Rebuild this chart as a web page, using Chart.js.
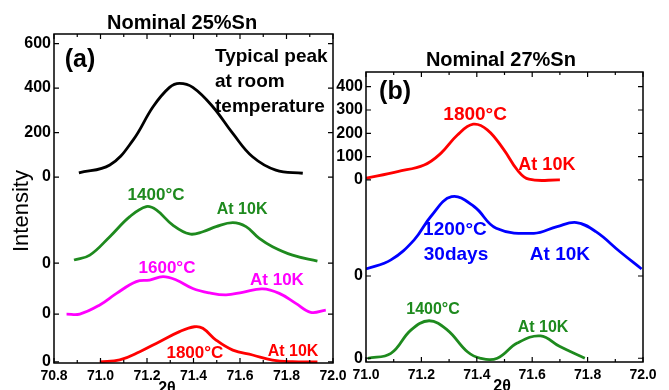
<!DOCTYPE html>
<html>
<head>
<meta charset="utf-8">
<script src="https://cdn.jsdelivr.net/npm/chart.js@4"></script>
<style>
  body { margin: 0; background: #fff; }
  #wrap { position: relative; width: 669px; height: 390px; overflow: hidden; }
  canvas { position: absolute; top: 0; }
  #chartA { left: 0; }
  #chartB { left: 300px; }
</style>
</head>
<body>
<div id="wrap">
  <canvas id="chartA" width="360" height="390"></canvas>
  <canvas id="chartB" width="369" height="390"></canvas>
</div>
<script>
// panel (a), nominal 25%Sn: 2θ and intensity, each curve
const typicalX = [70.907, 71.04, 71.14, 71.226, 71.297, 71.34, 71.397, 71.483, 71.569, 71.654, 71.754, 71.87];
const typicalY = [19, 54, 166, 316, 403, 421, 403, 316, 196, 91, 31, 17];
const a1400X = [70.886, 70.954, 71.04, 71.126, 71.197, 71.24, 71.311, 71.383, 71.44, 71.497, 71.569, 71.626, 71.683, 71.74, 71.826, 71.933];
const a1400Y = [14, 36, 119, 209, 254, 239, 171, 131, 141, 164, 182, 164, 111, 74, 36, 9];
const a1600X = [70.854, 70.911, 70.997, 71.069, 71.154, 71.211, 71.269, 71.326, 71.397, 71.469, 71.54, 71.611, 71.697, 71.769, 71.84, 71.904, 71.969];
const a1600Y = [0, 0, 41, 93, 146, 153, 168, 153, 115, 95, 86, 98, 113, 93, 48, 8, 18];
const a1800X = [70.997, 71.083, 71.169, 71.254, 71.34, 71.404, 71.44, 71.497, 71.569, 71.654, 71.74, 71.826, 71.933];
const a1800Y = [0, 9, 46, 91, 136, 158, 151, 98, 53, 31, 8, 1, 0];
const zeroA = [0, -387, -616, -831];
const xTicksA = [70.8, 71.0, 71.2, 71.4, 71.6, 71.8, 72.0];
const yTicksA = [600, 400, 200, 0];

// panel (b), nominal 27%Sn
const b1800X = [71.0, 71.114, 71.21, 71.27, 71.33, 71.387, 71.438, 71.498, 71.546, 71.588, 71.7];
const b1800Y = [7, 36, 64, 114, 193, 239, 215, 129, 43, 3, 0];
const b1200X = [71.0, 71.09, 71.174, 71.234, 71.309, 71.39, 71.47, 71.606, 71.69, 71.76, 71.83, 71.917, 71.995];
const b1200Y = [30, 69, 155, 255, 340, 298, 205, 183, 212, 229, 190, 104, 30];
const b1400X = [71.006, 71.09, 71.162, 71.228, 71.294, 71.366, 71.414, 71.474, 71.546, 71.63, 71.7, 71.79];
const b1400Y = [0, 21, 121, 161, 121, 28, 0, 0, 65, 96, 50, 0];
const zeroB = [0, -412, -765];
const xTicksB = [71.0, 71.2, 71.4, 71.6, 71.8, 72.0];
const yTicksB = [400, 300, 200, 100, 0];

const FONT = "'Liberation Sans', Arial, sans-serif";
const GREEN = "#1e8a1e";

function series(xs, ys, zero, color) {
  return {
    data: xs.map((x, i) => ({ x: x, y: ys[i] + zero })),
    borderColor: color,
    borderWidth: 2.8,
    pointRadius: 0,
    tension: 0.4,
    fill: false,
  };
}

// free text placed in data coordinates
const notes = {
  id: "notes",
  afterDraw(chart, args, opts) {
    const { ctx, scales } = chart;
    ctx.save();
    ctx.textBaseline = "middle";
    opts.items.forEach((n) => {
      const px = scales.x.getPixelForValue(n.x);
      const py = scales.y.getPixelForValue(n.y);
      ctx.fillStyle = n.color || "#000";
      ctx.font = (n.bold === false ? "" : "bold ") + n.size + "px " + FONT;
      ctx.textAlign = n.align || "center";
      if (n.rotate) {
        ctx.save();
        ctx.translate(px, py);
        ctx.rotate(-Math.PI / 2);
        ctx.fillText(n.text, 0, 0);
        ctx.restore();
      } else {
        ctx.fillText(n.text, px, py);
      }
    });
    ctx.restore();
  },
};

// box around the plot with inward ticks on all sides
const frame = {
  id: "frame",
  afterDraw(chart) {
    const { ctx, chartArea: a, scales: { x, y } } = chart;
    ctx.save();
    ctx.strokeStyle = "#000";
    ctx.lineWidth = 1.5;
    ctx.strokeRect(a.left, a.top, a.right - a.left, a.bottom - a.top);
    ctx.lineWidth = 1.2;
    ctx.beginPath();
    const xt = x.ticks.map((t) => t.value);
    xt.forEach((v, i) => {
      const p = x.getPixelForValue(v);
      ctx.moveTo(p, a.bottom); ctx.lineTo(p, a.bottom - 5);
      ctx.moveTo(p, a.top); ctx.lineTo(p, a.top + 5);
      if (i < xt.length - 1) {
        const m = x.getPixelForValue((v + xt[i + 1]) / 2);
        ctx.moveTo(m, a.bottom); ctx.lineTo(m, a.bottom - 3);
        ctx.moveTo(m, a.top); ctx.lineTo(m, a.top + 3);
      }
    });
    y.ticks.forEach((t) => {
      const p = y.getPixelForValue(t.value);
      ctx.moveTo(a.left, p); ctx.lineTo(a.left + 5, p);
      ctx.moveTo(a.right, p); ctx.lineTo(a.right - 5, p);
    });
    ctx.stroke();
    ctx.restore();
  },
};

function makeChart(id, cfg) {
  return new Chart(document.getElementById(id).getContext("2d"), {
    type: "line",
    data: { datasets: cfg.datasets },
    options: {
      responsive: false,
      animation: false,
      layout: { padding: cfg.padding },
      plugins: { legend: { display: false }, tooltip: { enabled: false }, notes: { items: cfg.notes } },
      scales: {
        x: {
          type: "linear",
          min: cfg.xMin,
          max: cfg.xMax,
          grid: { display: false, drawTicks: false },
          border: { display: false },
          afterBuildTicks: (s) => { s.ticks = cfg.xTicks.map((v) => ({ value: v })); },
          afterFit: (s) => { s.height = cfg.xHeight; },
          ticks: {
            color: "#000",
            padding: 5,
            maxRotation: 0,
            autoSkip: false,
            font: { family: FONT, size: 14, weight: "bold" },
            callback: (v) => Number(v).toFixed(1),
          },
        },
        y: {
          min: cfg.yMin,
          max: cfg.yMax,
          grid: { display: false, drawTicks: false },
          border: { display: false },
          afterBuildTicks: (s) => { s.ticks = cfg.yTicks.map((v) => ({ value: v })); },
          afterFit: (s) => { s.width = cfg.yWidth; },
          ticks: {
            color: "#000",
            padding: 3,
            autoSkip: false,
            font: { family: FONT, size: 16, weight: "bold" },
            callback: (v) => (v > 0 ? v : "0"),
          },
        },
      },
    },
    plugins: [frame, notes],
  });
}

makeChart("chartA", {
  datasets: [
    series(typicalX, typicalY, zeroA[0], "#000"),
    series(a1400X, a1400Y, zeroA[1], GREEN),
    series(a1600X, a1600Y, zeroA[2], "#ff00ff"),
    series(a1800X, a1800Y, zeroA[3], "#ff0000"),
  ],
  padding: { top: 34, right: 27, bottom: 0, left: 0 },
  xMin: 70.8, xMax: 72.0, xTicks: xTicksA, xHeight: 27,
  yMin: -836, yMax: 643, yTicks: yTicksA.concat(zeroA.slice(1)), yWidth: 54,
  notes: [
    { text: "Nominal 25%Sn", x: 71.351, y: 692, size: 20 },
    { text: "(a)", x: 70.912, y: 526, size: 25 },
    { text: "Typical peak", x: 71.4925, y: 540, size: 19, align: "left" },
    { text: "at room", x: 71.4925, y: 427, size: 19, align: "left" },
    { text: "temperature", x: 71.4925, y: 315, size: 19, align: "left" },
    { text: "1400°C", x: 71.239, y: -81, size: 17, color: GREEN },
    { text: "At 10K", x: 71.609, y: -148, size: 16, color: GREEN },
    { text: "1600°C", x: 71.286, y: -409, size: 17, color: "#ff00ff" },
    { text: "At 10K", x: 71.759, y: -463, size: 17, color: "#ff00ff" },
    { text: "1800°C", x: 71.406, y: -791, size: 17, color: "#ff0000" },
    { text: "At 10K", x: 71.828, y: -786, size: 16, color: "#ff0000" },
    { text: "2θ", x: 71.286, y: -953, size: 16 },
    { text: "Intensity", x: 70.662, y: -153, size: 22, bold: false, rotate: true },
  ],
});

makeChart("chartB", {
  datasets: [
    series(b1800X, b1800Y, zeroB[0], "#ff0000"),
    series(b1200X, b1200Y, zeroB[1], "#0000ff"),
    series(b1400X, b1400Y, zeroB[2], GREEN),
  ],
  padding: { top: 72, right: 26, bottom: 0, left: 0 },
  xMin: 71.0, xMax: 72.0, xTicks: xTicksB, xHeight: 28,
  yMin: -781, yMax: 463, yTicks: yTicksB.concat(zeroB.slice(1)), yWidth: 66,
  notes: [
    { text: "Nominal 27%Sn", x: 71.487, y: 514, size: 20 },
    { text: "(b)", x: 71.105, y: 377, size: 25 },
    { text: "1800°C", x: 71.394, y: 279, size: 19, color: "#ff0000" },
    { text: "At 10K", x: 71.653, y: 64, size: 18, color: "#ff0000" },
    { text: "1200°C", x: 71.321, y: -215, size: 19, color: "#0000ff" },
    { text: "30days", x: 71.325, y: -322, size: 19, color: "#0000ff" },
    { text: "At 10K", x: 71.70, y: -322, size: 19, color: "#0000ff" },
    { text: "1400°C", x: 71.242, y: -558, size: 16, color: GREEN },
    { text: "At 10K", x: 71.639, y: -635, size: 16, color: GREEN },
    { text: "2θ", x: 71.491, y: -888, size: 16 },
  ],
});
</script>
</body>
</html>
